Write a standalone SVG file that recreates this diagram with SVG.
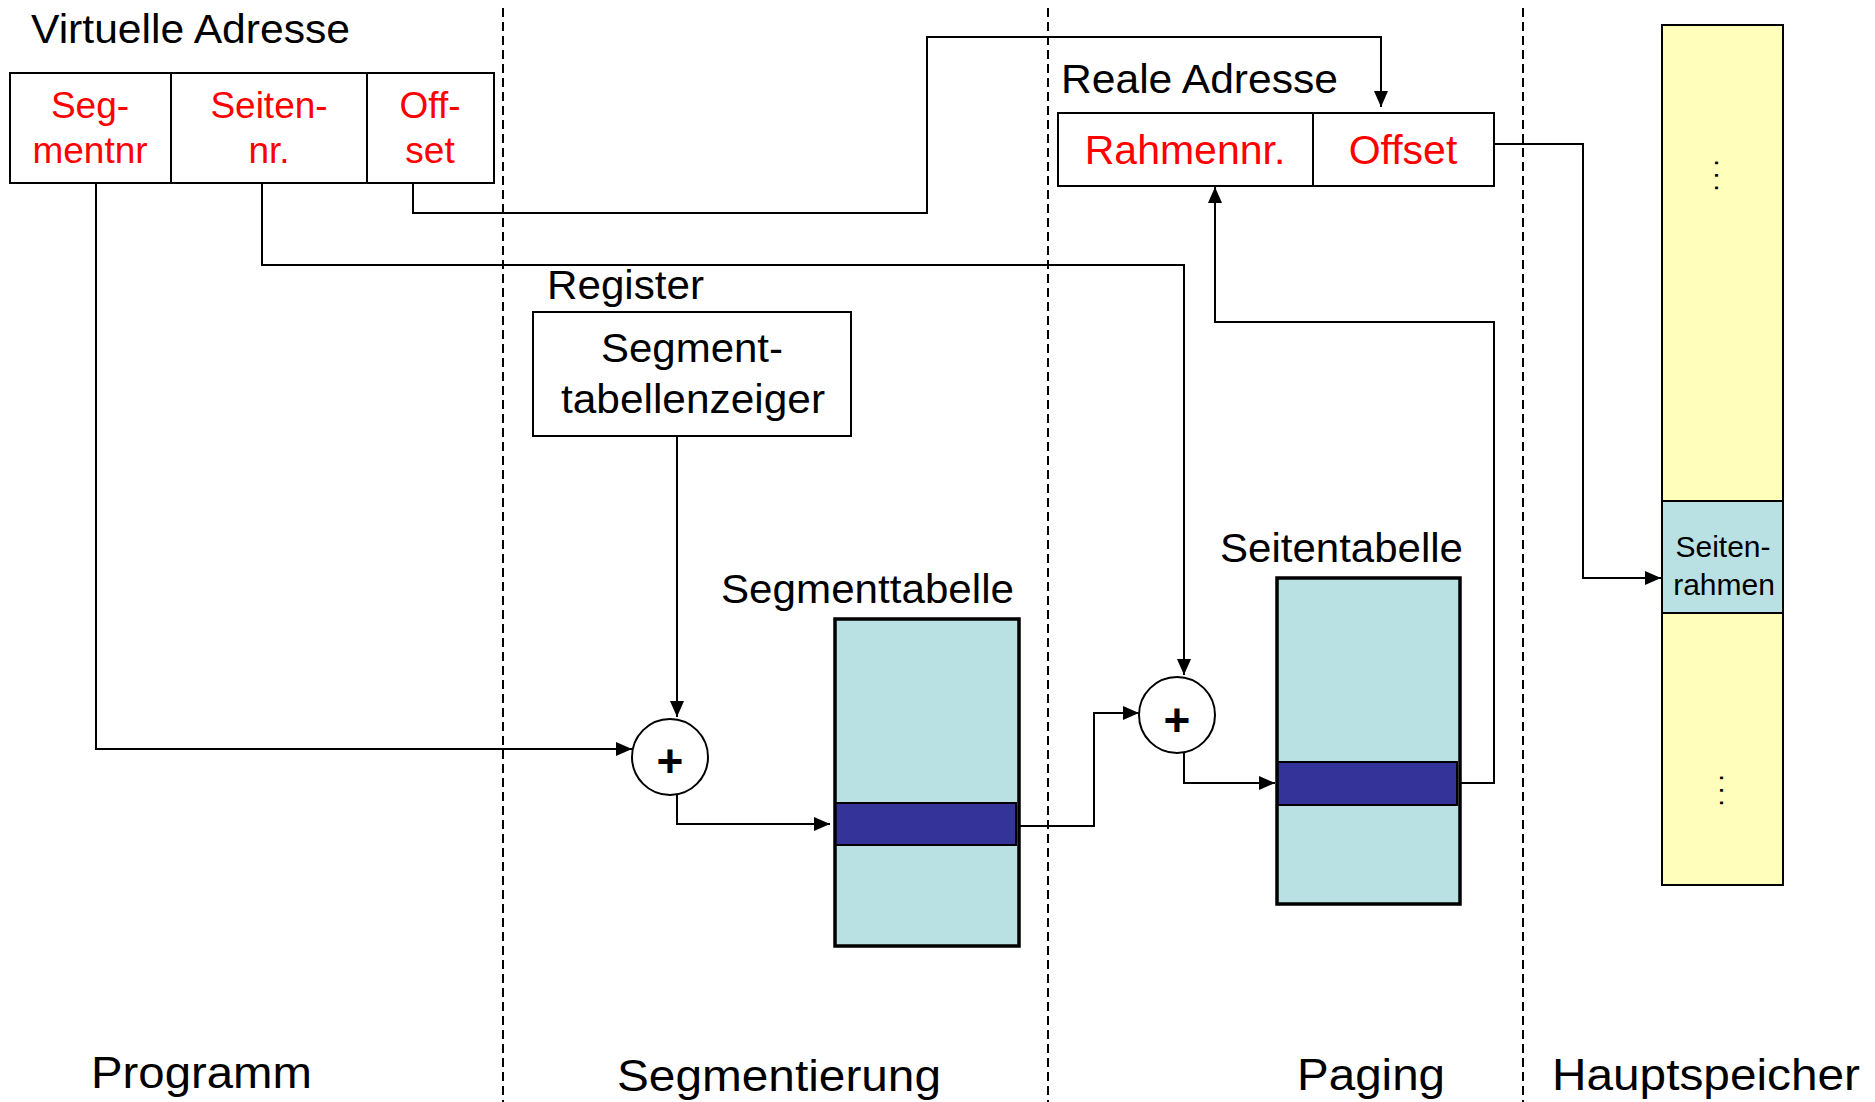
<svg xmlns="http://www.w3.org/2000/svg" width="1875" height="1102" viewBox="0 0 1875 1102">
<defs>
<style>
text{font-family:"Liberation Sans",Arial,sans-serif;fill:#000}
.t{font-size:40px}
.red{fill:#ff0000;text-anchor:middle}
.r37{font-size:37px}
.r41{font-size:41px}
.bot{font-size:45px}
.box{fill:#fff;stroke:#000;stroke-width:2}
.tbl{fill:#b9e0e3}
.band{fill:#333399;stroke:#000;stroke-width:2}
.tb{fill:none;stroke:#000;stroke-width:3.5}
.dash{stroke:#000;stroke-width:2;stroke-dasharray:9 5;fill:none}
.conn path{fill:none;stroke:#000;stroke-width:2;marker-end:url(#ah)}
.plus{font-size:46px;font-weight:bold;text-anchor:middle}
.dots{font-size:28px;letter-spacing:4.7px}
</style>
<marker id="ah" markerWidth="16" markerHeight="14" refX="16" refY="7" orient="auto" markerUnits="userSpaceOnUse"><path d="M0,0 L16,7 L0,14 z" fill="#000"/></marker>
</defs>
<rect width="1875" height="1102" fill="#fff"/>

<g id="separators">
<line class="dash" x1="503" y1="8" x2="503" y2="1102"/>
<line class="dash" x1="1048" y1="8" x2="1048" y2="1102"/>
<line class="dash" x1="1523" y1="8" x2="1523" y2="1102"/>
</g>

<g id="virtuelle-adresse">
<text class="t" x="31" y="43" textLength="319" lengthAdjust="spacingAndGlyphs">Virtuelle Adresse</text>
<rect class="box" x="10" y="73" width="484" height="110"/>
<line x1="171" y1="73" x2="171" y2="183" stroke="#000" stroke-width="2"/>
<line x1="367" y1="73" x2="367" y2="183" stroke="#000" stroke-width="2"/>
<text class="red r37" x="90" y="118">Seg-</text>
<text class="red r37" x="90" y="163">mentnr</text>
<text class="red r37" x="269" y="118">Seiten-</text>
<text class="red r37" x="269" y="163">nr.</text>
<text class="red r37" x="430" y="118">Off-</text>
<text class="red r37" x="430" y="163">set</text>
</g>

<g id="reale-adresse">
<text class="t" x="1061" y="93" textLength="277" lengthAdjust="spacingAndGlyphs">Reale Adresse</text>
<rect class="box" x="1058" y="113" width="436" height="73"/>
<line x1="1313" y1="113" x2="1313" y2="186" stroke="#000" stroke-width="2"/>
<text class="red r41" x="1185" y="164">Rahmennr.</text>
<text class="red r41" x="1403" y="164">Offset</text>
</g>

<g id="register">
<text class="t" x="547" y="299" textLength="157" lengthAdjust="spacingAndGlyphs">Register</text>
<rect class="box" x="533" y="312" width="318" height="124"/>
<text class="t" x="601" y="362" textLength="182" lengthAdjust="spacingAndGlyphs">Segment-</text>
<text class="t" x="561" y="413" textLength="264" lengthAdjust="spacingAndGlyphs">tabellenzeiger</text>
</g>

<g id="adder1">
<circle cx="670" cy="757" r="38" fill="#fff" stroke="#000" stroke-width="2"/>
<text class="plus" x="670" y="777">+</text>
</g>

<g id="segmenttabelle">
<text class="t" x="721" y="603" textLength="293" lengthAdjust="spacingAndGlyphs">Segmenttabelle</text>
<rect class="tbl" x="835" y="619" width="184" height="327"/>
<rect class="band" x="835" y="803" width="181" height="42"/>
<rect class="tb" x="835" y="619" width="184" height="327"/>
</g>

<g id="adder2">
<circle cx="1177" cy="715" r="38" fill="#fff" stroke="#000" stroke-width="2"/>
<text class="plus" x="1177" y="736">+</text>
</g>

<g id="seitentabelle">
<text class="t" x="1220" y="562" textLength="243" lengthAdjust="spacingAndGlyphs">Seitentabelle</text>
<rect class="tbl" x="1277" y="578" width="183" height="326"/>
<rect class="band" x="1277" y="762" width="180" height="43"/>
<rect class="tb" x="1277" y="578" width="183" height="326"/>
</g>

<g id="hauptspeicher">
<rect x="1662" y="25" width="121" height="860" fill="#ffffbb" stroke="#000" stroke-width="2"/>
<rect x="1662" y="501" width="121" height="112" fill="#b9e0e3" stroke="#000" stroke-width="2"/>
<text x="1723" y="557" font-size="30" text-anchor="middle">Seiten-</text>
<text x="1724" y="595" font-size="30" text-anchor="middle">rahmen</text>
<text class="dots" transform="translate(1714.6,159.1) rotate(90)">...</text>
<text class="dots" transform="translate(1719.6,774.1) rotate(90)">...</text>
</g>

<g id="labels">
<text class="bot" x="91" y="1088" textLength="221" lengthAdjust="spacingAndGlyphs">Programm</text>
<text class="bot" x="617" y="1091" textLength="324" lengthAdjust="spacingAndGlyphs">Segmentierung</text>
<text class="bot" x="1297" y="1090" textLength="148" lengthAdjust="spacingAndGlyphs">Paging</text>
<text class="bot" x="1552" y="1090" textLength="308" lengthAdjust="spacingAndGlyphs">Hauptspeicher</text>
</g>

<g id="connectors" class="conn">
<path d="M96,184 V749 H632"/>
<path d="M677,436 V717"/>
<path d="M677,795 V824 H830"/>
<path d="M1019,826 H1094 V713 H1139"/>
<path d="M262,184 V265 H1184 V675"/>
<path d="M1184,752 V783 H1275"/>
<path d="M1460,783 H1494 V322 H1215 V187"/>
<path d="M413,184 V213 H927 V37 H1381 V107"/>
<path d="M1494,144 H1583 V578 H1661"/>
</g>
</svg>
